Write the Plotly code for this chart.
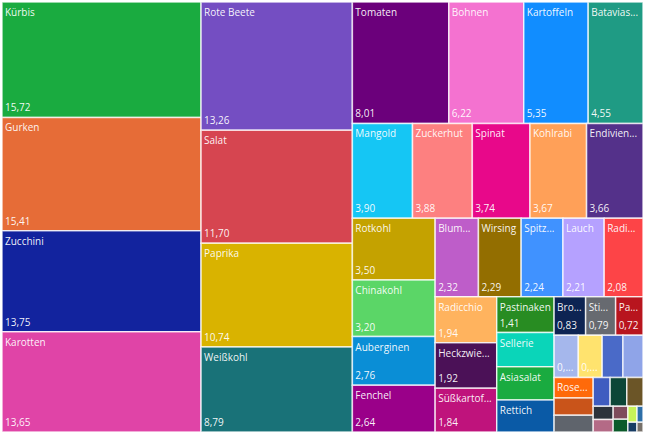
import plotly.graph_objects as go

vegetables = [
    "Kürbis", "Gurken", "Zucchini", "Karotten", "Rote Beete", "Salat", "Paprika", "Weißkohl",
    "Tomaten", "Bohnen", "Kartoffeln", "Bataviasalat", "Mangold", "Zuckerhut", "Spinat", "Kohlrabi",
    "Endiviensalat", "Rotkohl", "Chinakohl", "Auberginen", "Fenchel", "Blumenkohl", "Wirsing",
    "Spitzkohl", "Lauch", "Radieschen", "Radicchio", "Heckzwiebeln", "Süßkartoffeln", "Pastinaken",
    "Sellerie", "Asiasalat", "Rettich", "Brokkoli", "Stielmus", "Pak Choi", "Rucola", "Feldsalat",
    "Romanesco", "Grünkohl", "Rosenkohl", "Steckrüben", "Schwarzwurzeln", "Topinambur",
    "Artischocken", "Spargel", "Okra", "Postelein", "Portulak", "Mairübchen", "Meerrettich",
    "Petersilienwurzel", "Rübstiel", "Cardy",
]

values = [
    15.72, 15.41, 13.75, 13.65, 13.26, 11.70, 10.74, 8.79,
    8.01, 6.22, 5.35, 4.55, 3.90, 3.88, 3.74, 3.67,
    3.66, 3.50, 3.20, 2.76, 2.64, 2.32, 2.29,
    2.24, 2.21, 2.08, 1.94, 1.92, 1.84, 1.41,
    1.34, 1.30, 1.26, 0.83, 0.79, 0.72, 0.70, 0.69,
    0.60, 0.58, 0.55, 0.46, 0.45, 0.335,
    0.33, 0.32, 0.18, 0.17, 0.13, 0.128, 0.10,
    0.065, 0.06, 0.04,
]

# Labels as they appear (truncated) on the tiles
shown_labels = [
    "Kürbis", "Gurken", "Zucchini", "Karotten", "Rote Beete", "Salat", "Paprika", "Weißkohl",
    "Tomaten", "Bohnen", "Kartoffeln", "Batavias...", "Mangold", "Zuckerhut", "Spinat", "Kohlrabi",
    "Endivien...", "Rotkohl", "Chinakohl", "Auberginen", "Fenchel", "Blum...", "Wirsing",
    "Spitz...", "Lauch", "Radi...", "Radicchio", "Heckzwie...", "Süßkartof...", "Pastinaken",
    "Sellerie", "Asiasalat", "Rettich", "Bro...", "Sti...", "Pa...", "", "",
    "", "", "Rose...", "", "", "",
    "", "", "", "", "", "", "",
    "", "", "",
]

# How each tile's value is shown: "full", "short" (truncated "0,...") or "none"
value_modes = (["full"] * 30 + ["none"] * 3 + ["full"] * 3 + ["short"] * 2
               + ["none"] * 16)

colors = [
    "#1AAB40", "#E66C37", "#12239E", "#E044A7", "#744EC2", "#D64550", "#D9B300", "#197278",
    "#6B007B", "#F472D0", "#118DFF", "#1F9B84", "#15C6F4", "#FD8080", "#E8088A", "#FFA058",
    "#54318A", "#C4A200", "#5BD667", "#0A8ED6", "#9A0089", "#BE5DC9", "#936E00",
    "#4092FF", "#B5A1FF", "#FD4447", "#FFB35E", "#4B1157", "#BF137C", "#288C22",
    "#0AD5B9", "#1AAB40", "#0A5AA6", "#0D2453", "#676A70", "#B8151E", "#A5B7EC", "#FFE36E",
    "#4A6AC8", "#8FA4E8", "#FF6A0A", "#C9541A", "#5F646C", "#3F5CC0",
    "#0C4637", "#6B5527", "#2C323B", "#B46A86", "#7E4C5C", "#0B5A2A", "#C8F35A",
    "#2E6FA8", "#173C63", "#77716A",
]

root_label = "Gemüse"


def fmt(v):
    return f"{v:.2f}".replace(".", ",")


shown_values = []
for v, mode in zip(values, value_modes):
    if mode == "full":
        shown_values.append(fmt(v))
    elif mode == "short":
        shown_values.append(fmt(v)[:2] + "...")
    else:
        shown_values.append("")

labels = [root_label] + vegetables
parents = [""] + [root_label] * len(vegetables)
vals = [0] + values
font = dict(family="Open Sans, sans-serif", size=10, color="rgba(255,255,255,0.95)")

common = dict(
    labels=labels, parents=parents, values=vals, branchvalues="remainder",
    tiling=dict(squarifyratio=1.618, pad=0),
    pathbar=dict(visible=False), sort=True, textfont=font,
)

fig = go.Figure()
fig.add_trace(go.Treemap(
    **common,
    text=[""] + shown_labels, texttemplate="%{text}", textposition="top left",
    marker=dict(colors=["rgba(0,0,0,0)"] + colors,
                line=dict(color="rgba(255,255,255,0.75)", width=1.5),
                pad=dict(t=0, l=0, r=0, b=0)),
    hoverinfo="label+value",
))
fig.add_trace(go.Treemap(
    **common,
    text=[""] + shown_values, texttemplate="%{text}", textposition="bottom left",
    marker=dict(colors=["rgba(0,0,0,0)"] * len(labels), line=dict(width=0),
                pad=dict(t=0, l=0, r=0, b=0)),
    hoverinfo="skip",
))
fig.update_layout(
    width=645, height=434,
    margin=dict(l=2, r=2, t=2, b=2),
    paper_bgcolor="white",
    uniformtext=dict(minsize=10, mode="show"),
)
fig.write_html(
    "out.html",
    config={"displayModeBar": False},
    post_script="document.body.style.margin='0';document.body.style.overflow='hidden';",
)
